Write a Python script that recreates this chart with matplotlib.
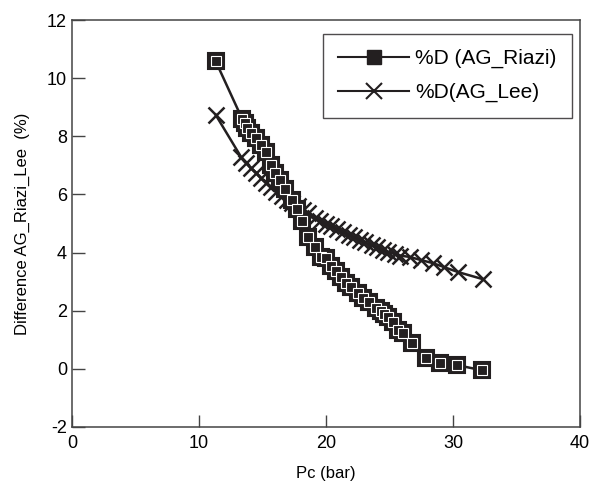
import matplotlib
matplotlib.use('Agg')
import matplotlib.pyplot as plt
from matplotlib.lines import Line2D

plt.rcParams['font.family'] = ['Liberation Sans', 'DejaVu Sans']
plt.rcParams['axes.unicode_minus'] = False

# donnees
pc_riazi = [11.3, 13.4, 13.6, 13.8, 14.1, 14.5, 14.9, 15.3, 15.7, 16.0, 16.4, 16.8, 17.3,
            17.7, 18.1, 18.6, 19.1, 19.6, 20.0, 20.4, 20.8, 21.2, 21.6, 22.0, 22.5, 22.9,
            23.4, 23.9, 24.3, 24.6, 24.9, 25.3, 25.7, 26.1, 26.8, 27.9, 29.0, 30.3, 32.3]
d_riazi = [10.6, 8.6, 8.45, 8.3, 8.1, 7.95, 7.7, 7.45, 7.0, 6.75, 6.5, 6.2, 5.8,
           5.5, 5.1, 4.55, 4.2, 3.85, 3.8, 3.55, 3.35, 3.15, 2.95, 2.8, 2.6, 2.45,
           2.3, 2.1, 2.0, 1.9, 1.8, 1.6, 1.35, 1.25, 0.9, 0.37, 0.2, 0.13, -0.05]

pc_lee = [11.3, 13.3, 13.7, 14.1, 14.5, 14.9, 15.3, 15.7, 16.1, 16.5, 16.9, 17.3, 17.8,
          18.2, 18.6, 19.1, 19.5, 20.0, 20.4, 20.9, 21.3, 21.8, 22.2, 22.7, 23.1, 23.6,
          24.0, 24.5, 24.9, 25.4, 25.8, 26.6, 27.5, 28.4, 29.3, 30.4, 32.4]
d_lee = [8.75, 7.3, 7.1, 6.9, 6.75, 6.55, 6.4, 6.25, 6.1, 5.95, 5.8, 5.7, 5.6,
         5.45, 5.35, 5.2, 5.1, 5.0, 4.9, 4.8, 4.72, 4.62, 4.52, 4.45, 4.35, 4.25,
         4.18, 4.1, 4.02, 3.95, 3.9, 3.85, 3.74, 3.64, 3.5, 3.33, 3.08]

xticks = [0, 10, 20, 30, 40]
yticks = [-2, 0, 2, 4, 6, 8, 10, 12]

fig = plt.figure(figsize=(5.91, 4.9), dpi=100)
ax = fig.add_axes([0.1218, 0.1286, 0.8596, 0.8304])

k = '#231f20'
ax.plot(pc_lee, d_lee, color=k, lw=1.8, marker='x', ms=11, mew=1.8)
ax.plot(pc_riazi, d_riazi, color=k, lw=1.8, marker='s', ms=11, mfc=k, mec=k, mew=1.5)
# petit reflet blanc dans les carres
ax.plot(pc_riazi, d_riazi, ls='none', marker='s', ms=7, mfc=k, mec='white', mew=0.8)

ax.set_xlim(0, 40)
ax.set_ylim(-2, 12)
ax.set_xticks(xticks)
ax.set_yticks(yticks)
ax.tick_params(direction='in', length=9, width=1, labelsize=13, color='#444')
ax.tick_params(axis='x', pad=6)
for s in ax.spines.values():
    s.set_color('#444')
    s.set_linewidth(1.1)

ax.set_xlabel('Pc (bar)', fontsize=12, labelpad=10)
ax.set_ylabel('Difference AG_Riazi_Lee  (%)', fontsize=12, labelpad=12)

h1 = Line2D([], [], color=k, lw=1.5, marker='s', ms=10, mfc=k, mec=k)
h2 = Line2D([], [], color=k, lw=1.5, marker='x', ms=11, mew=1.5)
leg = ax.legend([h1, h2], ['%D (AG_Riazi)', '%D(AG_Lee)'], loc='upper right',
                bbox_to_anchor=(0.985, 0.967), fontsize=15, frameon=True, fancybox=False,
                edgecolor=k, handlelength=3.4, handletextpad=0.3, borderpad=0.75,
                labelspacing=0.7, borderaxespad=0)
leg.get_frame().set_linewidth(1.0)

fig.savefig('out.png', dpi=100)
